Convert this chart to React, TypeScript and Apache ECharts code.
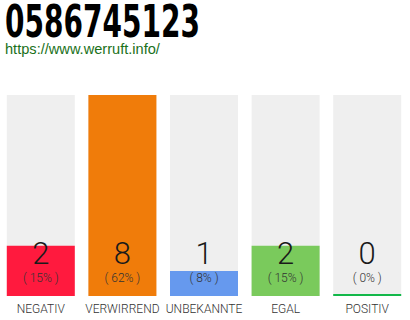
import React, { useEffect, useRef } from "react";
import * as echarts from "echarts";

const categories = ["NEGATIV", "VERWIRREND", "UNBEKANNTE", "EGAL", "POSITIV"];
const counts = [2, 8, 1, 2, 0];
const colors = ["#ff1a3e", "#f07c0a", "#6699ee", "#7aca5c", "#13b84a"];
const titleText = "0586745123";
const linkText = "https://www.werruft.info/";

const labelFont = "Roboto, 'Noto Sans', sans-serif";

export default function App() {
  const ref = useRef<HTMLDivElement>(null);
  useEffect(() => {
    if (!ref.current) return;
    const chart = echarts.init(ref.current, null, { renderer: "svg" });
    const total = counts.reduce((a, b) => a + b, 0);
    const maxVal = Math.max(...counts);
    chart.setOption({
      animation: false,
      graphic: [
        {
          type: "text",
          x: 5,
          y: 0,
          scaleX: 0.637,
          style: {
            text: titleText,
            font: "bold 44px 'DejaVu Sans', sans-serif",
            fill: "#000",
            verticalAlign: "top",
          },
        },
        {
          type: "text",
          x: 5,
          y: 41,
          style: {
            text: linkText,
            font: "14.6px 'Liberation Sans', Arial, sans-serif",
            fill: "#1a711a",
            verticalAlign: "top",
          },
        },
      ],
      grid: { left: -2, right: 2, top: 95, bottom: 24 },
      xAxis: {
        type: "category",
        data: categories,
        axisLine: { show: false },
        axisTick: { show: false },
        axisLabel: {
          color: "#333",
          fontSize: 12,
          fontFamily: labelFont,
          fontWeight: 300,
          margin: 7,
          interval: 0,
        },
      },
      yAxis: { type: "value", min: 0, max: maxVal, show: false },
      series: [
        {
          type: "bar",
          barWidth: 68,
          barMinHeight: 2,
          showBackground: true,
          backgroundStyle: { color: "#efefef" },
          data: counts.map((v, i) => ({ value: v, itemStyle: { color: colors[i] } })),
          label: {
            show: true,
            position: "insideBottom",
            distance: 10,
            formatter: (p: any) =>
              `{v|${p.value}}\n{p|( ${Math.round((p.value / total) * 100)}% )}`,
            rich: {
              v: {
                fontSize: 31,
                fontFamily: labelFont,
                fontWeight: 300,
                color: "#1a1a1a",
                lineHeight: 34,
              },
              p: {
                fontSize: 12,
                fontFamily: labelFont,
                fontWeight: 300,
                color: "#333",
                lineHeight: 16,
              },
            },
          },
        },
      ],
    });
    return () => chart.dispose();
  }, []);
  return <div ref={ref} style={{ width: 410, height: 320, position: "absolute", left: 0, top: 0 }} />;
}
